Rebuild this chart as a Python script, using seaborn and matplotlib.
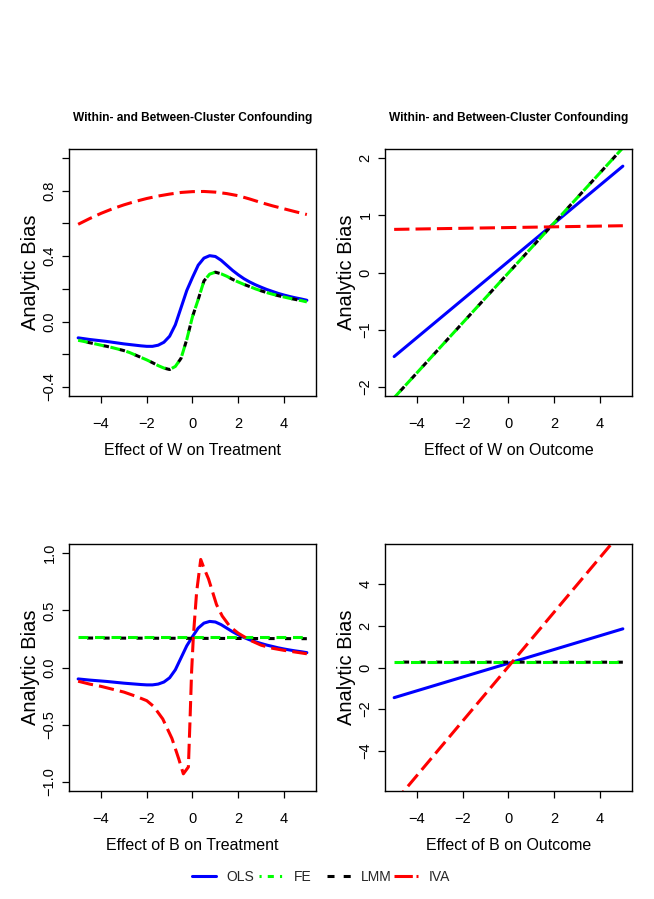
import seaborn as sns
import matplotlib
matplotlib.use('Agg')
import matplotlib.pyplot as plt
from matplotlib.lines import Line2D
from matplotlib.ticker import FixedLocator, FixedFormatter

# x grid for the curved panels (effect on treatment)
x_treat = [-5.0, -4.75, -4.5, -4.25, -4.0, -3.75, -3.5, -3.25, -3.0, -2.75,
           -2.5, -2.25, -2.0, -1.75, -1.5, -1.25, -1.0, -0.75, -0.5, -0.25,
           0.0, 0.25, 0.5, 0.75, 1.0, 1.25, 1.5, 1.75, 2.0, 2.25,
           2.5, 2.75, 3.0, 3.25, 3.5, 3.75, 4.0, 4.25, 4.5, 4.75, 5.0]

# OLS bias vs effect on treatment (same curve for W and B)
ols_treat = [-0.10, -0.105, -0.11, -0.114, -0.118, -0.122, -0.127, -0.132, -0.137, -0.141,
             -0.145, -0.149, -0.152, -0.152, -0.145, -0.127, -0.09, -0.02, 0.085, 0.19,
             0.27, 0.345, 0.388, 0.403, 0.398, 0.375, 0.344, 0.313, 0.286, 0.262,
             0.242, 0.225, 0.21, 0.196, 0.184, 0.172, 0.162, 0.153, 0.145, 0.138, 0.13]

# FE / LMM bias vs effect of W on treatment
fe_w_treat = [-0.115, -0.122, -0.13, -0.137, -0.145, -0.152, -0.16, -0.169, -0.178, -0.19,
              -0.205, -0.22, -0.235, -0.252, -0.27, -0.285, -0.294, -0.275, -0.225, -0.11,
              0.03, 0.135, 0.248, 0.29, 0.302, 0.292, 0.277, 0.258, 0.242, 0.227,
              0.214, 0.2, 0.188, 0.177, 0.167, 0.158, 0.15, 0.142, 0.135, 0.128, 0.12]
lmm_w_treat = list(fe_w_treat)  # LMM sits on top of FE here

# IVA bias vs effect of W on treatment
x_half = [-5.0, -4.5, -4.0, -3.5, -3.0, -2.5, -2.0, -1.5, -1.0, -0.5, 0.0,
          0.5, 1.0, 1.5, 2.0, 2.5, 3.0, 3.5, 4.0, 4.5, 5.0]
iva_w_treat = [0.595, 0.63, 0.662, 0.69, 0.714, 0.735, 0.753, 0.768, 0.78, 0.79, 0.795,
               0.796, 0.792, 0.783, 0.77, 0.75, 0.728, 0.708, 0.69, 0.672, 0.655]

# IVA bias vs effect of B on treatment
x_iva_b = [-5.0, -4.5, -4.0, -3.5, -3.0, -2.5, -2.0, -1.7, -1.3, -0.9,
           -0.6, -0.4, -0.18, -0.11, -0.04, 0.04, 0.18, 0.36, 0.5, 0.7,
           1.05, 1.3, 1.65, 2.0, 2.5, 3.0, 3.5, 4.0, 4.5, 5.0]
iva_b_treat = [-0.12, -0.145, -0.165, -0.19, -0.215, -0.25, -0.29, -0.34, -0.45, -0.62,
               -0.80, -0.93, -0.87, -0.47, -0.04, 0.28, 0.66, 0.945, 0.87, 0.775,
               0.55, 0.45, 0.355, 0.30, 0.24, 0.195, 0.168, 0.15, 0.135, 0.12]
x_ends = [-5.0, 5.0]
fe_b_treat = [0.266, 0.266]
lmm_b_treat = [0.258, 0.252]

# straight lines vs effect on outcome
ols_w_out = [-1.47, 1.86]
fe_w_out = [-2.19, 2.18]
lmm_w_out = [-2.19, 2.18]
iva_w_out = [0.754, 0.818]
ols_b_out = [-1.45, 1.86]
fe_b_out = [0.27, 0.27]
lmm_b_out = [0.26, 0.255]
iva_b_out = [-6.5, 6.6]

x_ticks = [-4, -2, 0, 2, 4]
x_ticklabels = ['\u22124', '\u22122', '0', '2', '4']
y_ticks = [
    [-0.4, -0.2, 0.0, 0.2, 0.4, 0.6, 0.8, 1.0],
    [-2, -1, 0, 1, 2],
    [-1.0, -0.5, 0.0, 0.5, 1.0],
    [-4, -2, 0, 2, 4],
]
y_ticklabels = [
    ['\u22120.4', '', '0.0', '', '0.4', '', '0.8', ''],
    ['\u22122', '\u22121', '0', '1', '2'],
    ['\u22121.0', '\u22120.5', '0.0', '0.5', '1.0'],
    ['\u22124', '\u22122', '0', '2', '4'],
]
y_limits = [(-0.456, 1.056), (-2.16, 2.16), (-1.08, 1.08), (-5.94, 5.94)]
x_labels = ['Effect of W on Treatment', 'Effect of W on Outcome',
            'Effect of B on Treatment', 'Effect of B on Outcome']
title = 'Within- and Between-Cluster Confounding'
legend_names = ['OLS', 'FE', 'LMM', 'IVA']

sns.set_style('ticks')
FONT = ['Liberation Sans', 'DejaVu Sans']
plt.rcParams['font.family'] = FONT

LW = 2.2
style = {
    'OLS': dict(color='#0000ff', linestyle='-'),
    'FE': dict(color='#00ff00', linestyle=(0, (3.2, 2.2))),
    'LMM': dict(color='black', linestyle=(2.5, (2, 3.4))),
    'IVA': dict(color='#ff0000', linestyle=(0, (5, 2))),
}

fig = plt.figure(figsize=(6.54, 8.99), dpi=100)
W, H = 654, 899
boxes = [(69, 149), (385, 149), (69, 544), (385, 544)]
axes = []
for (left, top) in boxes:
    axes.append(fig.add_axes([left / W, 1 - (top + 247) / H, 247 / W, 247 / H]))

panels = [
    [(x_treat, ols_treat, 'OLS'), (x_treat, lmm_w_treat, 'LMM'),
     (x_treat, fe_w_treat, 'FE'), (x_half, iva_w_treat, 'IVA')],
    [(x_ends, ols_w_out, 'OLS'), (x_ends, lmm_w_out, 'LMM'),
     (x_ends, fe_w_out, 'FE'), (x_ends, iva_w_out, 'IVA')],
    [(x_treat, ols_treat, 'OLS'), (x_ends, lmm_b_treat, 'LMM'),
     (x_ends, fe_b_treat, 'FE'), (x_iva_b, iva_b_treat, 'IVA')],
    [(x_ends, ols_b_out, 'OLS'), (x_ends, lmm_b_out, 'LMM'),
     (x_ends, fe_b_out, 'FE'), (x_ends, iva_b_out, 'IVA')],
]

for i, ax in enumerate(axes):
    for xs, ys, name in panels[i]:
        sns.lineplot(x=xs, y=ys, ax=ax, estimator=None, sort=False,
                     linewidth=LW, **style[name])
    ax.set_xlim(-5.4, 5.4)
    ax.set_ylim(*y_limits[i])
    ax.xaxis.set_major_locator(FixedLocator(x_ticks))
    ax.xaxis.set_major_formatter(FixedFormatter(x_ticklabels))
    ax.yaxis.set_major_locator(FixedLocator(y_ticks[i]))
    ax.yaxis.set_major_formatter(FixedFormatter(y_ticklabels[i]))
    ax.tick_params(direction='out', length=5, width=0.9, color='black',
                   labelsize=10.5, labelcolor='black')
    ax.tick_params(axis='x', pad=10)
    ax.tick_params(axis='y', pad=4)
    for lab in ax.get_yticklabels():
        lab.set_rotation(90)
        lab.set_va('center')
    for sp in ax.spines.values():
        sp.set_visible(True)
        sp.set_color('black')
        sp.set_linewidth(1.0)
    ax.set_xlabel(x_labels[i], fontsize=11.5, color='black')
    ax.xaxis.set_label_coords(0.5, -0.19)
    ax.set_ylabel('Analytic Bias', fontsize=14.5, color='black')
    ax.yaxis.set_label_coords(-0.118, 0.5)
    if i < 2:
        ax.set_title(title, fontsize=8.6, fontweight='bold', pad=20, color='black')

handles = [
    Line2D([], [], color='#0000ff', lw=LW, linestyle='-'),
    Line2D([], [], color='#00ff00', lw=LW, linestyle=(0, (0.7, 2, 2, 2))),
    Line2D([], [], color='black', lw=LW, linestyle=(0, (2.3, 3))),
    Line2D([], [], color='#ff0000', lw=LW, linestyle=(0, (6, 1.2))),
]
# R-style legend: equal-width entries in one row
for k, (h, name) in enumerate(zip(handles, legend_names)):
    fig.legend([h], [name], loc='center left',
               bbox_to_anchor=((192 + 67.3 * k) / W, 1 - 877 / H),
               frameon=False, fontsize=10, handlelength=1.75,
               handletextpad=0.75, borderpad=0, borderaxespad=0)

fig.savefig('out.png', dpi=100)
